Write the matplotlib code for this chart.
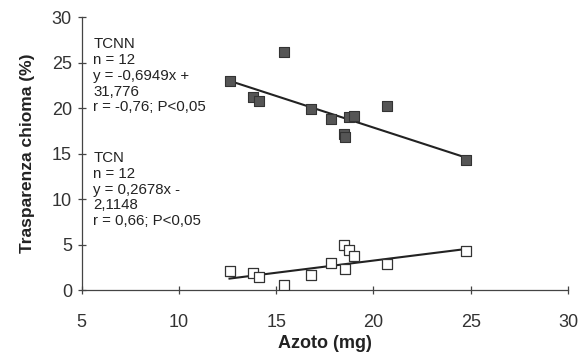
import numpy as np
import matplotlib.pyplot as plt

plt.rcParams['font.family'] = ['Liberation Sans', 'DejaVu Sans']

# TCNN (quadrati pieni)
azoto_tcnn = [12.6, 13.8, 14.1, 15.4, 16.8, 17.8, 18.5, 18.55, 18.75, 19.0, 20.7, 24.75]
trasp_tcnn = [23.0, 21.2, 20.8, 26.2, 19.9, 18.8, 17.2, 16.8, 19.0, 19.1, 20.2, 14.3]
# TCN (quadrati vuoti)
azoto_tcn = [12.6, 13.8, 14.1, 15.4, 16.8, 17.8, 18.5, 18.55, 18.75, 19.0, 20.7, 24.75]
trasp_tcn = [2.1, 1.9, 1.4, 0.5, 1.7, 3.0, 5.0, 2.3, 4.4, 3.7, 2.9, 4.3]

# rette di regressione (dal grafico)
a_tcnn, b_tcnn = -0.6949, 31.776
a_tcn, b_tcn = 0.2678, -2.1148

fig = plt.figure(figsize=(5.81, 3.55), dpi=100)
ax = fig.add_axes([0.1406, 0.183, 0.837, 0.768])

ax.scatter(azoto_tcnn, trasp_tcnn, s=42, marker='s', c='#555555',
           edgecolors='#333333', linewidths=0.8, zorder=3)
ax.scatter(azoto_tcn, trasp_tcn, s=42, marker='s', c='white',
           edgecolors='#333333', linewidths=0.9, zorder=3)

xx = np.array([min(azoto_tcnn), max(azoto_tcnn)])
ax.plot(xx, a_tcnn * xx + b_tcnn, color='#222222', lw=1.5, zorder=2)
xx = np.array([min(azoto_tcn), max(azoto_tcn)])
ax.plot(xx, a_tcn * xx + b_tcn, color='#222222', lw=1.5, zorder=2)

ax.set_xlim(5, 30)
ax.set_ylim(0, 30)
ax.set_xticks([5, 10, 15, 20, 25, 30])
ax.set_yticks([0, 5, 10, 15, 20, 25, 30])
ax.spines['top'].set_visible(False)
ax.spines['right'].set_visible(False)
for s in ['left', 'bottom']:
    ax.spines[s].set_color('#444444')
    ax.spines[s].set_linewidth(0.9)
ax.tick_params(direction='inout', length=6, width=0.9, colors='#444444',
               labelsize=13, labelcolor='#333333')
ax.tick_params(axis='x', pad=14)
ax.tick_params(axis='y', pad=4)

ax.set_xlabel('Azoto (mg)', fontsize=13, fontweight='bold', color='#222222', labelpad=3)
ax.set_ylabel('Trasparenza chioma (%)', fontsize=12.5, fontweight='bold', color='#222222', labelpad=12)

testo_tcnn = "TCNN\nn = 12\ny = -0,6949x +\n31,776\nr = -0,76; P<0,05"
testo_tcn = "TCN\nn = 12\ny = 0,2678x -\n2,1148\nr = 0,66; P<0,05"
ax.text(5.6, 27.8, testo_tcnn, fontsize=10.8, color='#222222', va='top', linespacing=1.16)
ax.text(5.6, 15.3, testo_tcn, fontsize=10.8, color='#222222', va='top', linespacing=1.16)

plt.savefig('out.png', dpi=100)
